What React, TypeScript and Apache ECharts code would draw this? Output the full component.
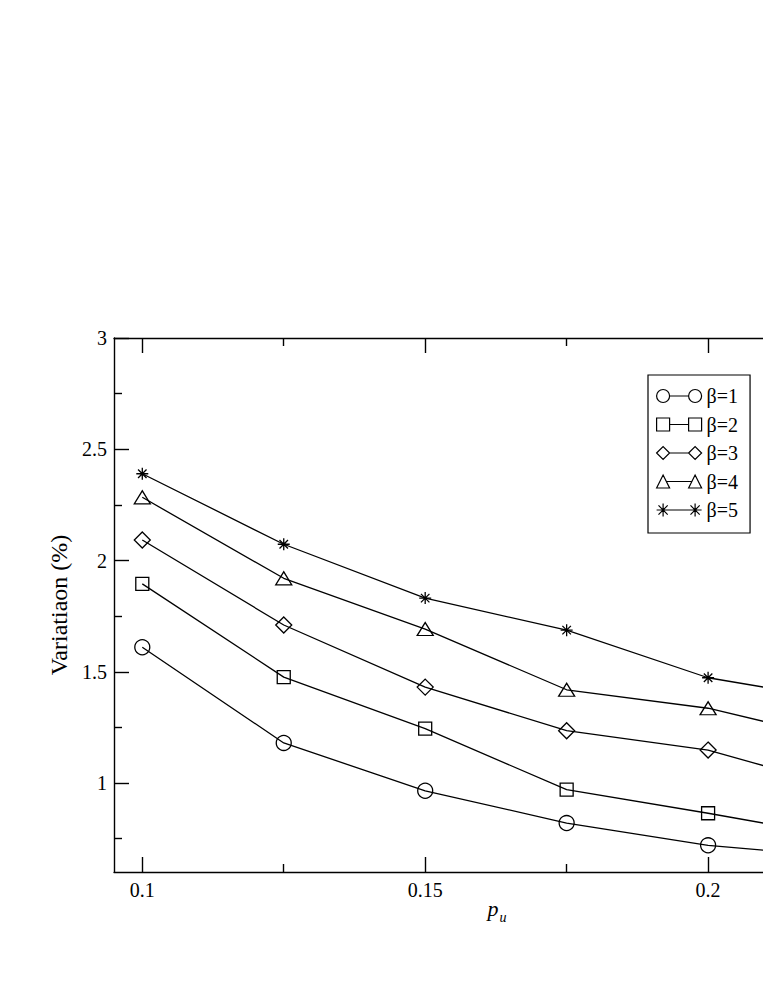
import React, { useEffect, useRef } from "react";
import * as echarts from "echarts";

const xValues = [0.1, 0.125, 0.15, 0.175, 0.2, 0.225];
const beta1 = [1.61, 1.18, 0.965, 0.82, 0.72, 0.665];
const beta2 = [1.895, 1.476, 1.244, 0.97, 0.864, 0.751];
const beta3 = [2.092, 1.71, 1.431, 1.235, 1.148, 0.969];
const beta4 = [2.284, 1.92, 1.692, 1.419, 1.336, 1.185];
const beta5 = [2.39, 2.073, 1.831, 1.687, 1.473, 1.366];
const seriesNames = ["β=1", "β=2", "β=3", "β=4", "β=5"];

const xLabelValues = [0.1, 0.15, 0.2];
const xMajorTicks = [0.1, 0.15, 0.2, 0.25];
const xMinorTicks = [0.125, 0.175, 0.225];
const yMajorTicks = [1, 1.5, 2, 2.5, 3];
const yMinorTicks = [0.75, 1.25, 1.75, 2.25, 2.75];

const FONT = "'Liberation Serif', 'Times New Roman', Times, serif";

const starSym =
  "path://M6,0 L6,12 M0,6 L12,6 M1.76,1.76 L10.24,10.24 M10.24,1.76 L1.76,10.24";
const symbols = ["circle", "rect", "diamond", "triangle", starSym];
const symbolSizes: any[] = [15, 13, 16, [16, 13], 12];

const legendIcons = [
  "path://M0,6.5 A6.5,6.5 0 1 0 13,6.5 A6.5,6.5 0 1 0 0,6.5 Z M13,6.5 L32,6.5 M32,6.5 A6.5,6.5 0 1 0 45,6.5 A6.5,6.5 0 1 0 32,6.5 Z",
  "path://M0,0 L13,0 L13,13 L0,13 Z M13,6.5 L32,6.5 M32,0 L45,0 L45,13 L32,13 Z",
  "path://M0,6.5 L6.5,0 L13,6.5 L6.5,13 Z M13,6.5 L32,6.5 M32,6.5 L38.5,0 L45,6.5 L38.5,13 Z",
  "path://M0,13 L6.5,0 L13,13 Z M9.75,6.5 L35.25,6.5 M32,13 L38.5,0 L45,13 Z",
  "path://M6.5,0 L6.5,13 M0,6.5 L13,6.5 M1.9,1.9 L11.1,11.1 M11.1,1.9 L1.9,11.1 M13,6.5 L32,6.5 M38.5,0 L38.5,13 M32,6.5 L45,6.5 M33.9,1.9 L43.1,11.1 M43.1,1.9 L33.9,11.1",
];

export default function App() {
  const ref = useRef<HTMLDivElement>(null);
  useEffect(() => {
    if (!ref.current) return;
    const chart = echarts.init(ref.current, null, { renderer: "svg" });
    const allY = [beta1, beta2, beta3, beta4, beta5];
    const axisLineStyle = { color: "#000", width: 1.4 };
    const xBase = {
      type: "value",
      min: 0.095,
      max: 0.25,
      splitLine: { show: false },
      axisLine: { show: true, onZero: false, lineStyle: axisLineStyle },
    };
    const yBase = {
      type: "value",
      min: 0.6,
      max: 3,
      splitLine: { show: false },
      axisLine: { show: true, onZero: false, lineStyle: axisLineStyle },
    };
    const option: any = {
      animation: false,
      backgroundColor: "#fff",
      textStyle: { fontFamily: FONT },
      grid: {
        left: 114,
        top: 338,
        width: 877,
        height: 534,
        outerBoundsMode: "none",
        containLabel: false,
      },
      xAxis: [
        {
          ...xBase,
          position: "bottom",
          axisTick: {
            show: true,
            inside: true,
            length: 15,
            customValues: xMajorTicks,
            lineStyle: axisLineStyle,
          },
          axisLabel: {
            show: true,
            customValues: xLabelValues,
            margin: 8,
            color: "#000",
            fontFamily: FONT,
            fontSize: 20,
          },
        },
        {
          ...xBase,
          position: "bottom",
          axisLine: { show: false, onZero: false },
          axisTick: {
            show: true,
            inside: true,
            length: 8,
            customValues: xMinorTicks,
            lineStyle: axisLineStyle,
          },
          axisLabel: { show: false },
        },
        {
          ...xBase,
          position: "top",
          axisTick: {
            show: true,
            inside: true,
            length: 15,
            customValues: xMajorTicks,
            lineStyle: axisLineStyle,
          },
          axisLabel: { show: false },
        },
        {
          ...xBase,
          position: "top",
          axisLine: { show: false, onZero: false },
          axisTick: {
            show: true,
            inside: true,
            length: 8,
            customValues: xMinorTicks,
            lineStyle: axisLineStyle,
          },
          axisLabel: { show: false },
        },
      ],
      yAxis: [
        {
          ...yBase,
          position: "left",
          name: "Variatiaon (%)",
          nameLocation: "middle",
          nameGap: 40,
          nameTextStyle: { color: "#000", fontFamily: FONT, fontSize: 24 },
          axisTick: {
            show: true,
            inside: true,
            length: 15,
            customValues: yMajorTicks,
            lineStyle: axisLineStyle,
          },
          axisLabel: {
            show: true,
            customValues: yMajorTicks,
            margin: 7,
            color: "#000",
            fontFamily: FONT,
            fontSize: 20,
          },
        },
        {
          ...yBase,
          position: "left",
          axisLine: { show: false, onZero: false },
          axisTick: {
            show: true,
            inside: true,
            length: 8,
            customValues: yMinorTicks,
            lineStyle: axisLineStyle,
          },
          axisLabel: { show: false },
        },
      ],
      legend: {
        orient: "vertical",
        left: 648,
        top: 375,
        padding: [11, 12, 13, 8],
        itemWidth: 45,
        itemHeight: 13,
        itemGap: 8.5,
        borderColor: "#000",
        borderWidth: 1.2,
        backgroundColor: "#fff",
        textStyle: { color: "#000", fontFamily: FONT, fontSize: 20 },
        itemStyle: { color: "rgba(0,0,0,0)", borderColor: "#000", borderWidth: 1.2 },
        data: seriesNames.map((n, i) => ({ name: n, icon: legendIcons[i] })),
      },
      graphic: [
        {
          type: "text",
          x: 493,
          y: 908,
          style: {
            text: "p",
            font: `italic 22px ${FONT}`,
            fill: "#000",
            textAlign: "center",
            textVerticalAlign: "middle",
          },
        },
        {
          type: "text",
          x: 503,
          y: 917,
          style: {
            text: "u",
            font: `italic 14px ${FONT}`,
            fill: "#000",
            textAlign: "center",
            textVerticalAlign: "middle",
          },
        },
      ],
      series: seriesNames.map((name, i) => ({
        name,
        type: "line",
        xAxisIndex: 0,
        yAxisIndex: 0,
        data: xValues.map((x, j) => [x, allY[i][j]]),
        symbol: symbols[i],
        symbolSize: symbolSizes[i],
        showSymbol: true,
        lineStyle: { color: "#000", width: 1.3 },
        itemStyle: { color: "rgba(0,0,0,0)", borderColor: "#000", borderWidth: 1.3 },
        emphasis: { disabled: true },
      })),
    };
    chart.setOption(option);
    return () => chart.dispose();
  }, []);
  return (
    <div
      ref={ref}
      style={{ position: "fixed", left: 0, top: 0, width: 763, height: 987, background: "#fff" }}
    />
  );
}
